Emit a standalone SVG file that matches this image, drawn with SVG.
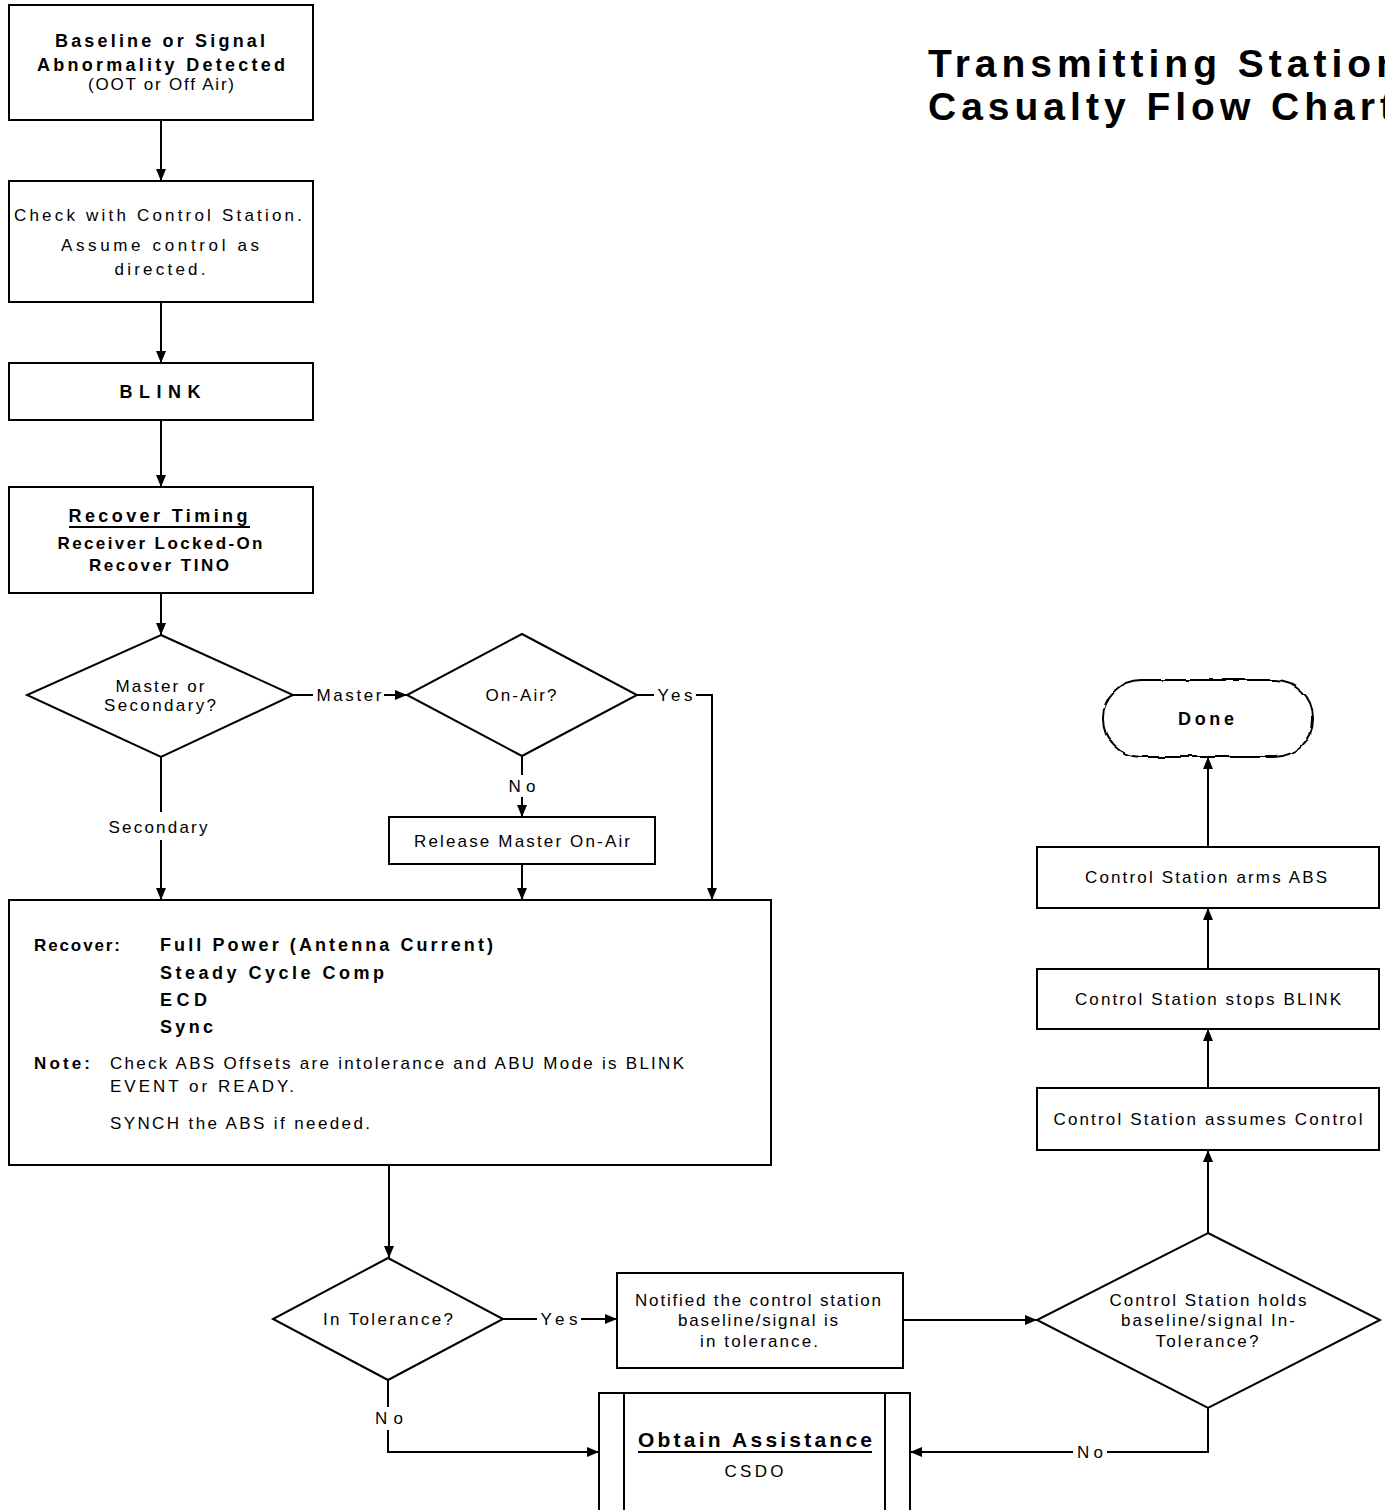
<svg xmlns="http://www.w3.org/2000/svg" width="1385" height="1510" viewBox="0 0 1385 1510">
<style>
.box{fill:#fff;stroke:#000;stroke-width:2}
.ln{fill:none;stroke:#000;stroke-width:2}
.arr{fill:none;stroke:#000;stroke-width:2;marker-end:url(#ah)}
text{font-family:"Liberation Sans",Arial,sans-serif;fill:#000;text-anchor:middle}
.n{font-size:17px}
.b{font-size:18px;font-weight:bold}
.l{text-anchor:start}
.t{font-size:39px;font-weight:bold;letter-spacing:5px;text-anchor:start}
</style>
<defs>
<marker id="ah" viewBox="0 0 12 10" refX="12" refY="5" markerWidth="12" markerHeight="10" markerUnits="userSpaceOnUse" orient="auto"><path d="M0,0 L12,5 L0,10 z" fill="#000"/></marker>
<filter id="rough" x="-10%" y="-20%" width="120%" height="140%">
<feTurbulence type="fractalNoise" baseFrequency="0.06" numOctaves="2" seed="3" result="noise"/>
<feDisplacementMap in="SourceGraphic" in2="noise" scale="4" xChannelSelector="R" yChannelSelector="G"/>
</filter>
</defs>
<rect width="1385" height="1510" fill="#fff"/>
<g id="title">
<text class="t" x="928" y="77">Transmitting Station</text>
<text class="t" x="928" y="120">Casualty Flow Chart</text>
</g>
<g id="connectors">
<path class="arr" d="M161,120 V181"/>
<path class="arr" d="M161,302 V363"/>
<path class="arr" d="M161,420 V487"/>
<path class="arr" d="M161,593 V635"/>
<path class="ln" d="M293,695 H313"/>
<path class="arr" d="M384,695 H407"/>
<path class="ln" d="M637,695 H654"/>
<path class="arr" d="M696,695 H712 V900"/>
<path class="ln" d="M522,756 V775"/>
<path class="arr" d="M522,797 V817"/>
<path class="arr" d="M522,864 V900"/>
<path class="ln" d="M161,757 V812"/>
<path class="arr" d="M161,840 V900"/>
<path class="arr" d="M389,1165 V1258"/>
<path class="ln" d="M503,1319 H537"/>
<path class="arr" d="M581,1319 H617"/>
<path class="arr" d="M903,1320 H1037"/>
<path class="ln" d="M388,1380 V1407"/>
<path class="arr" d="M388,1430 V1452 H599"/>
<path class="ln" d="M1208,1408 V1452 H1107"/>
<path class="arr" d="M1073,1452 H910"/>
<path class="arr" d="M1208,1233 V1150"/>
<path class="arr" d="M1208,1088 V1029"/>
<path class="arr" d="M1208,969 V908"/>
<path class="arr" d="M1208,847 V757"/>
<text class="n" x="349" y="701" textLength="65" lengthAdjust="spacing">Master</text>
<text class="n" x="675" y="701" textLength="35" lengthAdjust="spacing">Yes</text>
<text class="n" x="522" y="792" textLength="27" lengthAdjust="spacing">No</text>
<text class="n" x="158" y="833" textLength="99" lengthAdjust="spacing">Secondary</text>
<text class="n" x="559" y="1325" textLength="37" lengthAdjust="spacing">Yes</text>
<text class="n" x="389" y="1424" textLength="28" lengthAdjust="spacing">No</text>
<text class="n" x="1090" y="1458" textLength="26" lengthAdjust="spacing">No</text>
</g>
<g id="n1">
<rect class="box" x="9" y="5" width="304" height="115"/>
<text class="b" x="160" y="47" textLength="210" lengthAdjust="spacing">Baseline or Signal</text>
<text class="b" x="161" y="71" textLength="248" lengthAdjust="spacing">Abnormality Detected</text>
<text class="n" x="161" y="90" textLength="146" lengthAdjust="spacing">(OOT or Off Air)</text>
</g>
<g id="n2">
<rect class="box" x="9" y="181" width="304" height="121"/>
<text class="n" x="158" y="221" textLength="288" lengthAdjust="spacing">Check with Control Station.</text>
<text class="n" x="160" y="251" textLength="198" lengthAdjust="spacing">Assume control as</text>
<text class="n" x="160" y="275" textLength="91" lengthAdjust="spacing">directed.</text>
</g>
<g id="n3">
<rect class="box" x="9" y="363" width="304" height="57"/>
<text class="b" x="160" y="398" textLength="81" lengthAdjust="spacing">BLINK</text>
</g>
<g id="n4">
<rect class="box" x="9" y="487" width="304" height="106"/>
<text class="b" x="158" y="522" textLength="179" lengthAdjust="spacing">Recover Timing</text>
<path class="ln" d="M69,527 H250" stroke-width="1.5"/>
<text class="b" x="160" y="549" textLength="205" lengthAdjust="spacing" style="font-size:17px">Receiver Locked-On</text>
<text class="b" x="159" y="571" textLength="140" lengthAdjust="spacing" style="font-size:17px">Recover TINO</text>
</g>
<g id="d1">
<polygon class="box" points="161,635 293,695 161,757 27,695"/>
<text class="n" x="160" y="692" textLength="89" lengthAdjust="spacing">Master or</text>
<text class="n" x="160" y="711" textLength="112" lengthAdjust="spacing">Secondary?</text>
</g>
<g id="d2">
<polygon class="box" points="522,634 637,695 522,756 407,695"/>
<text class="n" x="521" y="701" textLength="71" lengthAdjust="spacing">On-Air?</text>
</g>
<g id="n5">
<rect class="box" x="389" y="817" width="266" height="47"/>
<text class="n" x="522" y="847" textLength="216" lengthAdjust="spacing">Release Master On-Air</text>
</g>
<g id="n6">
<rect class="box" x="9" y="900" width="762" height="265"/>
<text class="b l" x="34" y="951" textLength="86" lengthAdjust="spacing" style="font-size:17px">Recover:</text>
<text class="b l" x="160" y="951" textLength="333" lengthAdjust="spacing">Full Power (Antenna Current)</text>
<text class="b l" x="160" y="979" textLength="224" lengthAdjust="spacing">Steady Cycle Comp</text>
<text class="b l" x="160" y="1006" textLength="47" lengthAdjust="spacing">ECD</text>
<text class="b l" x="160" y="1033" textLength="53" lengthAdjust="spacing">Sync</text>
<text class="b l" x="34" y="1069" textLength="56" lengthAdjust="spacing" style="font-size:17px">Note:</text>
<text class="n l" x="110" y="1069" textLength="574" lengthAdjust="spacing">Check ABS Offsets are intolerance and ABU Mode is BLINK</text>
<text class="n l" x="110" y="1092" textLength="184" lengthAdjust="spacing">EVENT or READY.</text>
<text class="n l" x="110" y="1129" textLength="260" lengthAdjust="spacing">SYNCH the ABS if needed.</text>
</g>
<g id="d3">
<polygon class="box" points="388,1258 503,1319 388,1380 273,1319"/>
<text class="n" x="388" y="1325" textLength="130" lengthAdjust="spacing">In Tolerance?</text>
</g>
<g id="n7">
<rect class="box" x="617" y="1273" width="286" height="95"/>
<text class="n" x="758" y="1306" textLength="246" lengthAdjust="spacing">Notified the control station</text>
<text class="n" x="758" y="1326" textLength="160" lengthAdjust="spacing">baseline/signal is</text>
<text class="n" x="759" y="1347" textLength="118" lengthAdjust="spacing">in tolerance.</text>
</g>
<g id="d4">
<polygon class="box" points="1208,1233 1380,1320 1208,1408 1037,1320"/>
<text class="n" x="1208" y="1306" textLength="197" lengthAdjust="spacing">Control Station holds</text>
<text class="n" x="1208" y="1326" textLength="174" lengthAdjust="spacing">baseline/signal In-</text>
<text class="n" x="1207" y="1347" textLength="103" lengthAdjust="spacing">Tolerance?</text>
</g>
<g id="n8">
<rect class="box" x="599" y="1393" width="311" height="130"/>
<path class="ln" d="M624,1393 V1510 M885,1393 V1510"/>
<text class="b" x="755" y="1447" textLength="234" lengthAdjust="spacing" style="font-size:21px">Obtain Assistance</text>
<path class="ln" d="M638,1452 H872" stroke-width="1.8"/>
<text class="n" x="754" y="1477" textLength="59" lengthAdjust="spacing">CSDO</text>
</g>
<g id="n9">
<rect class="box" x="1037" y="1088" width="342" height="62"/>
<text class="n" x="1208" y="1125" textLength="309" lengthAdjust="spacing">Control Station assumes Control</text>
</g>
<g id="n10">
<rect class="box" x="1037" y="969" width="342" height="60"/>
<text class="n" x="1208" y="1005" textLength="266" lengthAdjust="spacing">Control Station stops BLINK</text>
</g>
<g id="n11">
<rect class="box" x="1037" y="847" width="342" height="61"/>
<text class="n" x="1206" y="883" textLength="242" lengthAdjust="spacing">Control Station arms ABS</text>
</g>
<g id="n12">
<rect class="box" x="1103" y="680" width="210" height="77" rx="38" ry="38" filter="url(#rough)"/>
<text class="b" x="1206" y="725" textLength="56" lengthAdjust="spacing">Done</text>
</g>
</svg>
